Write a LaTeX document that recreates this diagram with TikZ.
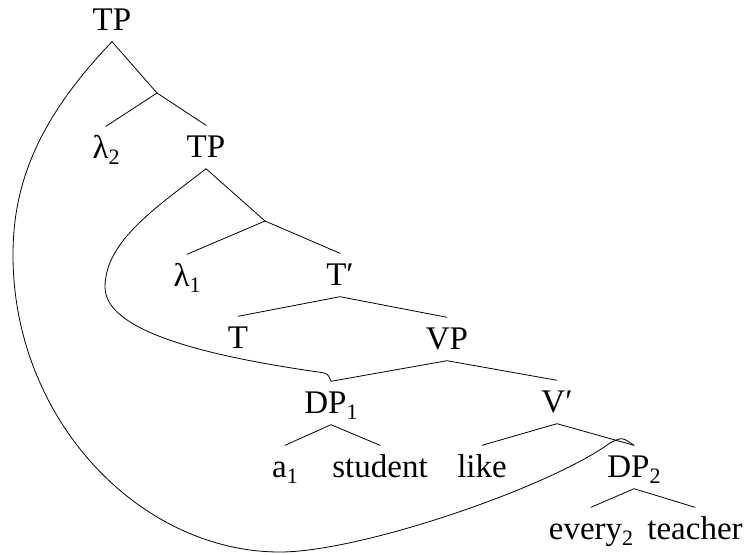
\documentclass[tikz,border=0pt]{standalone}
\usepackage{fontspec}
\setmainfont{Liberation Serif}
\newcommand\subx[1]{\raisebox{-0.2em}{\fontsize{22}{22}\selectfont #1}}
\begin{document}
\begin{tikzpicture}[x=1pt,y=-1pt,
  lab/.style={anchor=base,inner xsep=0pt,inner ysep=6.5pt,text height=25pt,text depth=5pt,
    font=\fontsize{33}{39}\selectfont},
  br/.style={line width=0.8pt,line cap=round},
  mv/.style={line width=0.8pt}]
\useasboundingbox (0,0) rectangle (746,554);
\node[lab] (tp0) at (112,30) {TP};
\coordinate (j1) at (157,93);
\node[lab] (lam2) at (106,158) {λ\subx{2}};
\node[lab] (tp2) at (206,157) {TP};
\coordinate (j2) at (265,221);
\node[lab] (lam1) at (187,286) {λ\subx{1}};
\node[lab] (tb) at (340,285) {T′};
\node[lab] (t) at (238,348) {T};
\node[lab] (vp) at (447,349) {VP};
\node[lab] (dp1) at (331,413) {DP\subx{1}};
\node[lab] (vb) at (557,412) {V′};
\node[lab] (a1) at (285,477) {a\subx{1}};
\node[lab] (st) at (380,477) {student};
\node[lab] (like) at (482,477) {like};
\node[lab] (dp2) at (634,477) {DP\subx{2}};
\node[lab] (ev) at (591,539) {every\subx{2}};
\node[lab] (te) at (695,539) {teacher};
\draw[br] (tp0.south) -- (j1) -- (lam2.north);
\draw[br] (j1) -- (tp2.north);
\draw[br] (j2) -- (lam1.north);
\draw[br] (j2) -- (tb.north);
\draw[br] (tp2.south) -- (j2);
\draw[br] (t.north) -- (tb.south) -- (vp.north);
\draw[br] (dp1.north) -- (vp.south) -- (vb.north);
\draw[br] (a1.north) -- (dp1.south) -- (st.north);
\draw[br] (like.north) -- (vb.south) -- (dp2.north);
\draw[br] (ev.north) -- (dp2.south) -- (te.north);
\draw[mv] (tp0.south) .. controls (37,120) and (13,185) .. (13,255)
  .. controls (13,420) and (140,552) .. (280,552)
  .. controls (360,552) and (548,488) .. (610,443)
  .. controls (622,437) .. (dp2.north);
\draw[mv] (tp2.south) .. controls (160,205) and (105,240) .. (105,287)
  .. controls (105,330) and (200,355) .. (318,372)
  .. controls (328,373.5) .. (dp1.north);
\end{tikzpicture}
\end{document}
